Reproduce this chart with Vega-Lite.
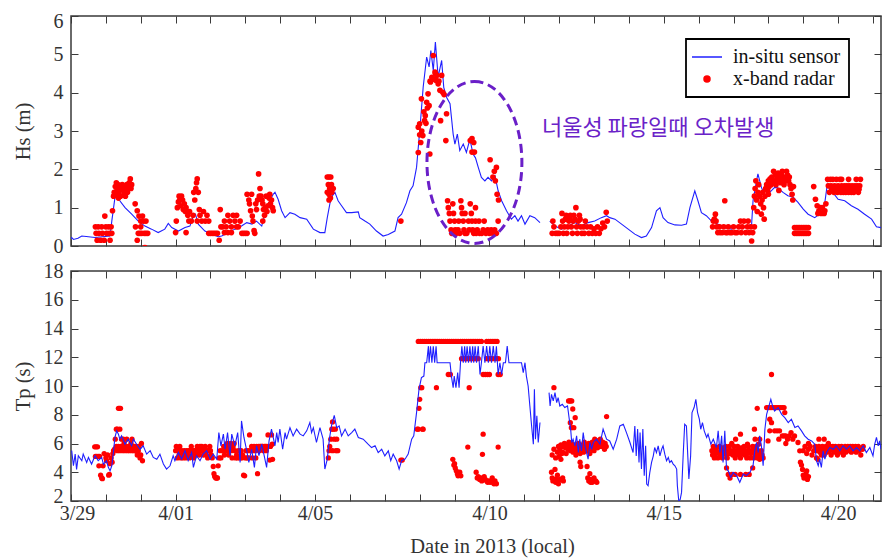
{
"$schema": "https://vega.github.io/schema/vega-lite/v6.json",
"background": "white",
"padding": {"left": 12, "top": 10, "right": 2, "bottom": 2},
"bounds": "flush",
"spacing": 25,
"config": {
  "view": {"stroke": "#3a3a3a", "strokeWidth": 1.5},
  "axis": {"domain": false, "grid": false, "tickColor": "#3a3a3a", "tickSize": -7, "tickWidth": 1, "labelFlush": false,
    "labelFont": "Liberation Serif", "labelFontSize": 20, "labelColor": "#333",
    "titleFont": "Liberation Serif", "titleFontSize": 20.5, "titleFontWeight": "normal", "titleColor": "#333"},
  "legend": {"labelFont": "Liberation Serif", "labelFontSize": 20}
},
"datasets": {
"hsS": [
{"day":0.0,"hs":0.2},{"day":0.02,"hs":0.22},{"day":0.07,"hs":0.17},{"day":0.2,"hs":0.2},{"day":0.31,"hs":0.26},{"day":0.5,"hs":0.24},{"day":0.69,"hs":0.22},{"day":0.9,"hs":0.24},{"day":1.12,"hs":0.26},{"day":1.17,"hs":0.65},{"day":1.26,"hs":1.26},{"day":1.31,"hs":1.44},{"day":1.4,"hs":1.18},{"day":1.55,"hs":1.0},{"day":1.74,"hs":0.83},{"day":1.93,"hs":0.65},{"day":2.12,"hs":0.52},{"day":2.31,"hs":0.44},{"day":2.5,"hs":0.35},{"day":2.69,"hs":0.44},{"day":2.79,"hs":0.59},{"day":2.89,"hs":0.48},{"day":3.08,"hs":0.39},{"day":3.27,"hs":0.48},{"day":3.41,"hs":0.52},{"day":3.51,"hs":0.79},{"day":3.57,"hs":0.83},{"day":3.65,"hs":0.57},{"day":3.84,"hs":0.39},{"day":4.03,"hs":0.31},{"day":4.22,"hs":0.24},{"day":4.32,"hs":0.26},{"day":4.51,"hs":0.35},{"day":4.7,"hs":0.44},{"day":4.89,"hs":0.52},{"day":5.04,"hs":0.61},{"day":5.19,"hs":0.57},{"day":5.32,"hs":0.65},{"day":5.47,"hs":0.52},{"day":5.56,"hs":0.83},{"day":5.7,"hs":1.18},{"day":5.8,"hs":1.35},{"day":5.85,"hs":1.4},{"day":5.94,"hs":1.22},{"day":6.04,"hs":0.92},{"day":6.14,"hs":0.74},{"day":6.28,"hs":0.87},{"day":6.42,"hs":0.83},{"day":6.57,"hs":0.74},{"day":6.76,"hs":0.7},{"day":6.95,"hs":0.44},{"day":7.14,"hs":0.35},{"day":7.28,"hs":0.35},{"day":7.35,"hs":0.74},{"day":7.43,"hs":1.13},{"day":7.5,"hs":1.31},{"day":7.57,"hs":1.4},{"day":7.66,"hs":1.18},{"day":7.76,"hs":1.05},{"day":7.9,"hs":0.87},{"day":8.05,"hs":0.87},{"day":8.24,"hs":0.89},{"day":8.28,"hs":0.74},{"day":8.43,"hs":0.65},{"day":8.57,"hs":0.57},{"day":8.76,"hs":0.39},{"day":8.95,"hs":0.26},{"day":9.1,"hs":0.3},{"day":9.29,"hs":0.39},{"day":9.38,"hs":0.74},{"day":9.48,"hs":0.83},{"day":9.62,"hs":1.13},{"day":9.72,"hs":1.44},{"day":9.81,"hs":1.57},{"day":9.91,"hs":2.05},{"day":10.01,"hs":3.1},{"day":10.1,"hs":4.14},{"day":10.2,"hs":4.93},{"day":10.27,"hs":4.67},{"day":10.32,"hs":5.1},{"day":10.39,"hs":4.58},{"day":10.45,"hs":5.32},{"day":10.53,"hs":4.41},{"day":10.63,"hs":4.84},{"day":10.69,"hs":4.14},{"day":10.77,"hs":3.88},{"day":10.87,"hs":3.71},{"day":10.91,"hs":3.36},{"day":10.96,"hs":2.92},{"day":11.01,"hs":2.66},{"day":11.08,"hs":2.92},{"day":11.15,"hs":2.49},{"day":11.25,"hs":2.66},{"day":11.34,"hs":2.44},{"day":11.44,"hs":2.79},{"day":11.53,"hs":2.4},{"day":11.6,"hs":2.3},{"day":11.68,"hs":2.05},{"day":11.77,"hs":1.79},{"day":11.87,"hs":1.7},{"day":11.96,"hs":1.79},{"day":12.06,"hs":1.7},{"day":12.16,"hs":1.83},{"day":12.25,"hs":1.44},{"day":12.35,"hs":1.18},{"day":12.49,"hs":0.92},{"day":12.63,"hs":0.7},{"day":12.73,"hs":0.79},{"day":12.82,"hs":0.65},{"day":12.92,"hs":0.79},{"day":13.02,"hs":0.57},{"day":13.16,"hs":0.79},{"day":13.3,"hs":0.74},{"day":13.45,"hs":0.61},{"day":13.6,"hs":null},{"day":13.73,"hs":0.65},{"day":13.88,"hs":0.52},{"day":14.07,"hs":0.44},{"day":14.26,"hs":0.52},{"day":14.45,"hs":0.61},{"day":14.64,"hs":0.52},{"day":14.83,"hs":0.61},{"day":15.02,"hs":0.65},{"day":15.21,"hs":0.74},{"day":15.36,"hs":0.79},{"day":15.45,"hs":0.74},{"day":15.6,"hs":0.7},{"day":15.79,"hs":0.57},{"day":15.98,"hs":0.44},{"day":16.17,"hs":0.31},{"day":16.36,"hs":0.22},{"day":16.5,"hs":0.26},{"day":16.65,"hs":0.48},{"day":16.79,"hs":0.92},{"day":16.89,"hs":1.0},{"day":16.98,"hs":0.74},{"day":17.12,"hs":0.61},{"day":17.32,"hs":0.55},{"day":17.51,"hs":0.54},{"day":17.65,"hs":0.57},{"day":17.75,"hs":1.0},{"day":17.89,"hs":1.44},{"day":17.98,"hs":1.18},{"day":18.08,"hs":0.87},{"day":18.22,"hs":0.79},{"day":18.37,"hs":0.65},{"day":18.56,"hs":0.57},{"day":18.75,"hs":0.48},{"day":18.94,"hs":0.44},{"day":19.13,"hs":0.52},{"day":19.32,"hs":0.48},{"day":19.52,"hs":0.57},{"day":19.56,"hs":1.18},{"day":19.66,"hs":1.7},{"day":19.7,"hs":1.88},{"day":19.8,"hs":1.53},{"day":19.9,"hs":1.31},{"day":20.04,"hs":1.4},{"day":20.18,"hs":1.53},{"day":20.27,"hs":1.52},{"day":20.42,"hs":1.4},{"day":20.56,"hs":1.31},{"day":20.71,"hs":1.27},{"day":20.85,"hs":1.14},{"day":21.0,"hs":0.96},{"day":21.14,"hs":0.83},{"day":21.33,"hs":0.74},{"day":21.52,"hs":0.87},{"day":21.62,"hs":1.14},{"day":21.69,"hs":1.61},{"day":21.75,"hs":1.49},{"day":21.85,"hs":1.4},{"day":22.0,"hs":1.22},{"day":22.19,"hs":1.18},{"day":22.38,"hs":1.05},{"day":22.57,"hs":0.96},{"day":22.76,"hs":0.83},{"day":22.96,"hs":0.7},{"day":23.1,"hs":0.5},{"day":23.23,"hs":0.48}
],
"hsR": [
{"day":0.7,"hs":0.5},{"day":0.72,"hs":0.33},{"day":0.75,"hs":0.15},{"day":0.78,"hs":0.5},{"day":0.8,"hs":0.33},{"day":0.85,"hs":0.15},{"day":0.88,"hs":0.5},{"day":0.9,"hs":0.33},{"day":0.95,"hs":0.15},{"day":0.97,"hs":0.78},{"day":1.0,"hs":0.5},{"day":1.02,"hs":0.33},{"day":1.08,"hs":0.5},{"day":1.1,"hs":0.33},{"day":1.12,"hs":0.15},{"day":1.15,"hs":0.5},{"day":1.17,"hs":0.33},{"day":1.19,"hs":0.92},
{"day":1.22,"hs":1.3},{"day":1.24,"hs":1.4},{"day":1.27,"hs":1.55},{"day":1.28,"hs":1.35},{"day":1.3,"hs":1.65},{"day":1.32,"hs":1.5},{"day":1.35,"hs":1.6},{"day":1.36,"hs":1.25},{"day":1.37,"hs":1.4},{"day":1.4,"hs":1.55},{"day":1.42,"hs":1.3},{"day":1.45,"hs":1.5},{"day":1.47,"hs":1.6},{"day":1.5,"hs":1.45},{"day":1.52,"hs":1.35},{"day":1.55,"hs":1.55},{"day":1.56,"hs":1.3},{"day":1.57,"hs":1.5},{"day":1.6,"hs":1.6},{"day":1.61,"hs":1.45},{"day":1.62,"hs":1.4},{"day":1.65,"hs":1.55},{"day":1.67,"hs":1.65},{"day":1.7,"hs":1.75},{"day":1.72,"hs":1.5},{"day":1.74,"hs":1.6},{"day":1.84,"hs":1.1},
{"day":1.85,"hs":0.5},{"day":1.9,"hs":0.92},{"day":1.9,"hs":0.15},{"day":1.93,"hs":0.33},{"day":1.95,"hs":0.78},{"day":1.98,"hs":0.33},{"day":2.0,"hs":0.65},{"day":2.0,"hs":0.5},{"day":2.03,"hs":0.33},{"day":2.05,"hs":0.78},{"day":2.08,"hs":0.65},{"day":2.1,"hs":0.33},{"day":2.12,"hs":-0.04},{"day":2.15,"hs":0.33},{"day":2.15,"hs":0.65},{"day":2.2,"hs":0.33},
{"day":3.0,"hs":0.35},{"day":3.02,"hs":0.65},{"day":3.05,"hs":1.0},{"day":3.08,"hs":1.15},{"day":3.1,"hs":1.3},{"day":3.12,"hs":1.2},{"day":3.15,"hs":1.05},{"day":3.17,"hs":1.3},{"day":3.2,"hs":1.2},{"day":3.22,"hs":0.95},{"day":3.25,"hs":1.1},{"day":3.28,"hs":0.9},{"day":3.3,"hs":1.0},{"day":3.3,"hs":0.35},{"day":3.33,"hs":0.9},{"day":3.35,"hs":0.8},{"day":3.38,"hs":0.65},{"day":3.4,"hs":0.9},{"day":3.45,"hs":0.65},{"day":3.5,"hs":0.8},{"day":3.52,"hs":1.4},{"day":3.55,"hs":1.2},{"day":3.58,"hs":1.5},{"day":3.6,"hs":1.65},{"day":3.62,"hs":1.75},{"day":3.62,"hs":0.65},{"day":3.65,"hs":1.4},{"day":3.68,"hs":0.95},{"day":3.7,"hs":0.8},{"day":3.75,"hs":0.65},{"day":3.8,"hs":0.9},{"day":3.85,"hs":0.65},{"day":3.9,"hs":0.8},{"day":3.95,"hs":0.65},
{"day":3.95,"hs":0.33},{"day":4.0,"hs":0.33},{"day":4.05,"hs":0.33},{"day":4.1,"hs":0.33},{"day":4.15,"hs":0.33},{"day":4.2,"hs":0.33},{"day":4.25,"hs":0.15},{"day":4.28,"hs":0.95},{"day":4.3,"hs":0.5},{"day":4.35,"hs":0.5},{"day":4.4,"hs":0.65},{"day":4.4,"hs":0.35},{"day":4.45,"hs":0.5},{"day":4.5,"hs":0.8},{"day":4.5,"hs":0.35},{"day":4.55,"hs":0.65},{"day":4.6,"hs":0.5},{"day":4.6,"hs":0.35},{"day":4.65,"hs":0.8},{"day":4.7,"hs":0.65},{"day":4.75,"hs":0.8},{"day":4.75,"hs":0.5},{"day":4.8,"hs":0.5},{"day":4.85,"hs":0.65},{"day":4.9,"hs":0.33},{"day":4.95,"hs":0.33},{"day":5.0,"hs":0.33},{"day":5.05,"hs":0.33},
{"day":5.05,"hs":1.35},{"day":5.1,"hs":1.2},{"day":5.12,"hs":1.1},{"day":5.15,"hs":0.92},{"day":5.18,"hs":1.35},{"day":5.2,"hs":0.78},{"day":5.22,"hs":0.65},{"day":5.25,"hs":0.4},{"day":5.27,"hs":0.33},{"day":5.3,"hs":1.1},{"day":5.32,"hs":0.95},{"day":5.35,"hs":1.2},{"day":5.38,"hs":1.88},{"day":5.4,"hs":1.3},{"day":5.42,"hs":1.5},{"day":5.45,"hs":1.3},{"day":5.48,"hs":1.2},{"day":5.5,"hs":1.1},{"day":5.5,"hs":0.65},{"day":5.52,"hs":0.95},{"day":5.55,"hs":0.8},{"day":5.58,"hs":1.0},{"day":5.6,"hs":1.3},{"day":5.62,"hs":0.9},{"day":5.65,"hs":1.05},{"day":5.68,"hs":1.25},{"day":5.7,"hs":1.35},{"day":5.72,"hs":1.1},{"day":5.75,"hs":1.2},{"day":5.78,"hs":1.0},{"day":5.8,"hs":0.92},
{"day":7.35,"hs":1.8},{"day":7.4,"hs":1.8},{"day":7.45,"hs":1.8},{"day":7.38,"hs":1.6},{"day":7.42,"hs":1.5},{"day":7.47,"hs":1.6},{"day":7.35,"hs":1.4},{"day":7.4,"hs":1.35},{"day":7.44,"hs":1.25},{"day":7.48,"hs":1.4},{"day":7.52,"hs":1.5},{"day":7.4,"hs":1.2},
{"day":9.46,"hs":0.65},
{"day":9.96,"hs":2.44},{"day":9.96,"hs":3.1},{"day":10.0,"hs":3.19},{"day":10.0,"hs":2.9},{"day":10.03,"hs":2.7},{"day":10.05,"hs":3.84},{"day":10.06,"hs":3.0},{"day":10.09,"hs":2.88},{"day":10.12,"hs":3.5},{"day":10.14,"hs":3.27},{"day":10.16,"hs":3.4},{"day":10.18,"hs":3.2},{"day":10.2,"hs":3.75},{"day":10.22,"hs":3.6},{"day":10.24,"hs":3.97},{"day":10.27,"hs":3.66},{"day":10.29,"hs":2.4},{"day":10.3,"hs":4.3},{"day":10.31,"hs":4.28},{"day":10.35,"hs":4.4},{"day":10.39,"hs":4.97},{"day":10.42,"hs":4.35},{"day":10.44,"hs":4.54},{"day":10.45,"hs":4.5},{"day":10.47,"hs":4.32},{"day":10.49,"hs":4.45},{"day":10.53,"hs":4.23},{"day":10.55,"hs":4.3},{"day":10.58,"hs":4.06},{"day":10.6,"hs":3.27},{"day":10.63,"hs":4.45},{"day":10.66,"hs":4.01},{"day":10.7,"hs":3.95},{"day":10.75,"hs":2.75},{"day":10.77,"hs":3.45},
{"day":11.45,"hs":2.75},{"day":11.5,"hs":2.8},{"day":11.55,"hs":2.7},{"day":11.5,"hs":2.45},{"day":11.57,"hs":2.45},{"day":12.02,"hs":2.25},{"day":12.1,"hs":1.8},{"day":12.14,"hs":1.95},{"day":12.17,"hs":1.7},{"day":12.2,"hs":2.05},{"day":12.22,"hs":1.35},{"day":12.26,"hs":1.2},
{"day":10.8,"hs":1.18},{"day":10.82,"hs":1.0},{"day":10.85,"hs":0.85},{"day":10.87,"hs":0.65},{"day":10.9,"hs":0.42},{"day":10.92,"hs":0.33},{"day":10.95,"hs":1.1},{"day":10.97,"hs":0.85},{"day":11.0,"hs":0.65},{"day":11.02,"hs":0.42},{"day":11.05,"hs":0.33},{"day":11.1,"hs":0.42},{"day":11.12,"hs":0.65},{"day":11.15,"hs":0.33},{"day":11.18,"hs":1.18},{"day":11.2,"hs":1.0},{"day":11.22,"hs":0.85},{"day":11.25,"hs":0.65},{"day":11.27,"hs":0.42},{"day":11.3,"hs":0.33},{"day":11.3,"hs":0.85},{"day":11.35,"hs":0.33},{"day":11.4,"hs":0.65},{"day":11.42,"hs":0.42},{"day":11.45,"hs":1.1},{"day":11.48,"hs":0.85},{"day":11.5,"hs":0.65},{"day":11.52,"hs":0.42},{"day":11.55,"hs":0.33},{"day":11.6,"hs":0.65},{"day":11.6,"hs":1.0},{"day":11.62,"hs":0.33},{"day":11.65,"hs":0.42},{"day":11.7,"hs":0.65},{"day":11.72,"hs":0.33},{"day":11.78,"hs":0.33},{"day":11.82,"hs":0.42},{"day":11.85,"hs":0.65},{"day":11.9,"hs":0.33},{"day":11.95,"hs":0.42},{"day":12.0,"hs":0.33},{"day":12.05,"hs":0.42},{"day":12.1,"hs":0.33},{"day":12.15,"hs":0.42},{"day":12.2,"hs":0.33},{"day":12.25,"hs":0.65},
{"day":13.8,"hs":0.33},{"day":13.82,"hs":0.65},{"day":13.85,"hs":0.5},{"day":13.9,"hs":0.33},{"day":13.95,"hs":0.33},{"day":14.0,"hs":0.33},{"day":14.05,"hs":0.5},{"day":14.08,"hs":0.85},{"day":14.1,"hs":0.65},{"day":14.12,"hs":0.33},{"day":14.15,"hs":0.5},{"day":14.18,"hs":0.7},{"day":14.2,"hs":0.8},{"day":14.22,"hs":0.33},{"day":14.25,"hs":0.5},{"day":14.28,"hs":0.65},{"day":14.3,"hs":0.7},{"day":14.32,"hs":0.8},{"day":14.35,"hs":0.5},{"day":14.38,"hs":0.33},{"day":14.4,"hs":0.65},{"day":14.42,"hs":0.8},{"day":14.45,"hs":0.7},{"day":14.48,"hs":1.0},{"day":14.5,"hs":0.5},{"day":14.52,"hs":0.33},{"day":14.55,"hs":0.65},{"day":14.58,"hs":0.8},{"day":14.6,"hs":0.7},{"day":14.62,"hs":0.5},{"day":14.65,"hs":0.33},{"day":14.7,"hs":0.5},{"day":14.72,"hs":0.33},{"day":14.75,"hs":0.65},{"day":14.8,"hs":0.5},{"day":14.85,"hs":0.33},{"day":14.9,"hs":0.5},{"day":14.95,"hs":0.33},{"day":15.0,"hs":0.45},{"day":15.05,"hs":0.33},{"day":15.1,"hs":0.5},{"day":15.15,"hs":0.33},{"day":15.2,"hs":0.45},{"day":15.25,"hs":0.6},{"day":15.3,"hs":0.5},{"day":15.35,"hs":0.88},{"day":15.38,"hs":0.65},
{"day":18.4,"hs":0.5},{"day":18.42,"hs":0.65},{"day":18.45,"hs":0.7},{"day":18.48,"hs":0.83},{"day":18.5,"hs":0.65},{"day":18.52,"hs":0.5},{"day":18.55,"hs":0.35},{"day":18.6,"hs":0.5},{"day":18.62,"hs":0.35},{"day":18.68,"hs":0.35},{"day":18.72,"hs":0.5},{"day":18.75,"hs":1.18},{"day":18.78,"hs":0.35},{"day":18.82,"hs":0.35},{"day":18.85,"hs":0.5},{"day":18.9,"hs":0.35},{"day":18.95,"hs":0.35},{"day":19.0,"hs":0.5},{"day":19.05,"hs":0.35},{"day":19.1,"hs":0.35},{"day":19.15,"hs":0.5},{"day":19.2,"hs":0.65},{"day":19.22,"hs":0.35},{"day":19.25,"hs":0.5},{"day":19.3,"hs":0.65},{"day":19.35,"hs":0.35},{"day":19.4,"hs":0.5},{"day":19.42,"hs":0.65},{"day":19.45,"hs":0.35},{"day":19.5,"hs":0.5},{"day":19.52,"hs":0.13},{"day":19.55,"hs":0.35},{"day":19.6,"hs":0.5},
{"day":19.58,"hs":1.0},{"day":19.6,"hs":1.3},{"day":19.62,"hs":1.5},{"day":19.64,"hs":1.7},{"day":19.66,"hs":1.2},{"day":19.68,"hs":0.9},{"day":19.7,"hs":1.4},{"day":19.72,"hs":1.6},{"day":19.75,"hs":1.3},{"day":19.78,"hs":1.1},{"day":19.8,"hs":0.83},{"day":19.82,"hs":1.2},{"day":19.84,"hs":1.4},{"day":19.86,"hs":1.0},{"day":19.88,"hs":0.7},{"day":19.9,"hs":1.3},{"day":19.92,"hs":1.5},{"day":19.95,"hs":1.6},{"day":19.98,"hs":1.45},{"day":20.0,"hs":1.7},{"day":20.0,"hs":1.35},{"day":20.02,"hs":1.55},{"day":20.05,"hs":1.75},{"day":20.08,"hs":1.6},{"day":20.1,"hs":1.8},{"day":20.12,"hs":1.65},{"day":20.15,"hs":1.95},{"day":20.18,"hs":1.7},{"day":20.2,"hs":1.85},{"day":20.22,"hs":1.6},{"day":20.25,"hs":1.75},{"day":20.28,"hs":1.9},{"day":20.3,"hs":1.7},{"day":20.3,"hs":1.45},{"day":20.32,"hs":1.8},{"day":20.35,"hs":1.65},{"day":20.38,"hs":1.85},{"day":20.4,"hs":1.95},{"day":20.42,"hs":1.75},{"day":20.45,"hs":1.6},{"day":20.48,"hs":1.8},{"day":20.5,"hs":1.7},{"day":20.52,"hs":1.95},{"day":20.55,"hs":1.85},{"day":20.58,"hs":1.7},{"day":20.6,"hs":1.8},{"day":20.62,"hs":1.6},{"day":20.65,"hs":1.5},{"day":20.68,"hs":1.35},{"day":20.7,"hs":1.2},{"day":20.72,"hs":1.55},
{"day":20.75,"hs":0.48},{"day":20.8,"hs":0.48},{"day":20.85,"hs":0.48},{"day":20.9,"hs":0.48},{"day":20.95,"hs":0.48},{"day":21.0,"hs":0.48},{"day":21.05,"hs":0.48},{"day":21.1,"hs":0.48},{"day":21.15,"hs":0.48},{"day":20.75,"hs":0.33},{"day":20.8,"hs":0.33},{"day":20.85,"hs":0.33},{"day":20.9,"hs":0.33},{"day":20.95,"hs":0.33},{"day":21.0,"hs":0.33},{"day":21.05,"hs":0.33},{"day":21.1,"hs":0.33},{"day":21.15,"hs":0.33},
{"day":21.3,"hs":1.55},{"day":21.35,"hs":1.22},{"day":21.4,"hs":1.05},{"day":21.42,"hs":0.85},{"day":21.45,"hs":0.92},{"day":21.5,"hs":1.0},{"day":21.52,"hs":0.85},{"day":21.55,"hs":1.0},{"day":21.6,"hs":0.85},{"day":21.62,"hs":0.92},{"day":21.65,"hs":1.1},
{"day":21.7,"hs":1.74},{"day":21.72,"hs":1.57},{"day":21.75,"hs":1.4},{"day":21.78,"hs":1.74},{"day":21.8,"hs":1.57},{"day":21.82,"hs":1.48},{"day":21.85,"hs":1.74},{"day":21.88,"hs":1.4},{"day":21.9,"hs":1.57},{"day":21.92,"hs":1.48},{"day":21.95,"hs":1.74},{"day":21.98,"hs":1.4},{"day":22.0,"hs":1.57},{"day":22.02,"hs":1.48},{"day":22.05,"hs":1.74},{"day":22.08,"hs":1.4},{"day":22.1,"hs":1.57},{"day":22.1,"hs":1.74},{"day":22.12,"hs":1.48},{"day":22.15,"hs":1.4},{"day":22.18,"hs":1.57},{"day":22.2,"hs":1.48},{"day":22.22,"hs":1.4},{"day":22.25,"hs":1.57},{"day":22.28,"hs":1.48},{"day":22.3,"hs":1.4},{"day":22.3,"hs":1.74},{"day":22.32,"hs":1.57},{"day":22.35,"hs":1.48},{"day":22.38,"hs":1.4},{"day":22.4,"hs":1.57},{"day":22.42,"hs":1.48},{"day":22.45,"hs":1.4},{"day":22.48,"hs":1.57},{"day":22.5,"hs":1.48},{"day":22.52,"hs":1.74},{"day":22.55,"hs":1.57},{"day":22.58,"hs":1.4},{"day":22.6,"hs":1.48},{"day":22.62,"hs":1.57},{"day":22.64,"hs":1.74}
],
"ring": [{"day":11.57,"hs":2.18}],
"note": [{"day":16.84,"hs":3.09,"label":"너울성 파랑일때 오차발생"}],
"tpS": [
{"day":0.02,"tp":5.5},{"day":0.07,"tp":4.45},{"day":0.12,"tp":5.26},{"day":0.16,"tp":4.2},{"day":0.21,"tp":5.15},{"day":0.31,"tp":4.8},{"day":0.35,"tp":5.26},{"day":0.45,"tp":4.68},{"day":0.5,"tp":5.03},{"day":0.59,"tp":4.57},{"day":0.69,"tp":5.15},{"day":0.78,"tp":4.8},{"day":0.88,"tp":5.03},{"day":0.93,"tp":4.57},{"day":1.02,"tp":4.8},{"day":1.07,"tp":4.34},{"day":1.12,"tp":4.1},{"day":1.17,"tp":4.45},{"day":1.21,"tp":5.26},{"day":1.26,"tp":6.42},{"day":1.31,"tp":6.88},{"day":1.36,"tp":6.65},{"day":1.4,"tp":6.3},{"day":1.45,"tp":6.53},{"day":1.55,"tp":5.95},{"day":1.64,"tp":6.3},{"day":1.74,"tp":5.84},{"day":1.79,"tp":6.3},{"day":1.88,"tp":5.95},{"day":1.98,"tp":5.6},{"day":2.07,"tp":5.84},{"day":2.17,"tp":5.26},{"day":2.27,"tp":5.5},{"day":2.36,"tp":5.03},{"day":2.46,"tp":4.91},{"day":2.55,"tp":5.26},{"day":2.65,"tp":4.57},{"day":2.74,"tp":4.22},{"day":2.84,"tp":4.45},{"day":2.93,"tp":5.15},{"day":2.98,"tp":4.8},{"day":3.08,"tp":5.38},{"day":3.17,"tp":4.91},{"day":3.27,"tp":5.5},{"day":3.36,"tp":4.8},{"day":3.46,"tp":5.38},{"day":3.51,"tp":4.34},{"day":3.6,"tp":5.15},{"day":3.7,"tp":4.8},{"day":3.79,"tp":5.26},{"day":3.89,"tp":5.5},{"day":3.99,"tp":4.91},{"day":4.08,"tp":5.26},{"day":4.18,"tp":4.91},{"day":4.24,"tp":6.76},{"day":4.3,"tp":5.84},{"day":4.37,"tp":6.65},{"day":4.42,"tp":5.6},{"day":4.49,"tp":6.76},{"day":4.56,"tp":5.15},{"day":4.61,"tp":6.65},{"day":4.7,"tp":5.84},{"day":4.78,"tp":6.76},{"day":4.85,"tp":4.68},{"day":4.89,"tp":7.57},{"day":4.96,"tp":6.42},{"day":5.04,"tp":5.5},{"day":5.1,"tp":4.68},{"day":5.18,"tp":5.6},{"day":5.26,"tp":4.34},{"day":5.32,"tp":5.84},{"day":5.39,"tp":5.15},{"day":5.47,"tp":5.95},{"day":5.54,"tp":5.15},{"day":5.61,"tp":4.34},{"day":5.68,"tp":6.19},{"day":5.75,"tp":7.0},{"day":5.8,"tp":6.42},{"day":5.85,"tp":5.84},{"day":5.9,"tp":6.76},{"day":5.94,"tp":6.07},{"day":5.99,"tp":7.0},{"day":6.07,"tp":5.6},{"day":6.14,"tp":6.76},{"day":6.18,"tp":6.3},{"day":6.28,"tp":7.1},{"day":6.37,"tp":6.53},{"day":6.47,"tp":7.0},{"day":6.57,"tp":6.65},{"day":6.66,"tp":6.53},{"day":6.76,"tp":6.88},{"day":6.85,"tp":7.46},{"day":6.9,"tp":6.76},{"day":6.95,"tp":7.1},{"day":7.04,"tp":6.07},{"day":7.14,"tp":7.1},{"day":7.23,"tp":6.3},{"day":7.28,"tp":4.22},{"day":7.35,"tp":4.91},{"day":7.41,"tp":6.3},{"day":7.47,"tp":7.22},{"day":7.55,"tp":7.96},{"day":7.62,"tp":7.1},{"day":7.69,"tp":7.22},{"day":7.76,"tp":6.53},{"day":7.86,"tp":7.0},{"day":7.95,"tp":6.53},{"day":8.05,"tp":6.76},{"day":8.14,"tp":7.0},{"day":8.24,"tp":6.42},{"day":8.38,"tp":6.3},{"day":8.52,"tp":5.95},{"day":8.62,"tp":5.72},{"day":8.72,"tp":5.84},{"day":8.81,"tp":5.37},{"day":8.91,"tp":5.6},{"day":9.0,"tp":5.14},{"day":9.1,"tp":5.49},{"day":9.17,"tp":4.8},{"day":9.24,"tp":5.26},{"day":9.34,"tp":4.8},{"day":9.41,"tp":4.22},{"day":9.48,"tp":4.8},{"day":9.58,"tp":4.91},{"day":9.67,"tp":5.26},{"day":9.77,"tp":6.3},{"day":9.83,"tp":6.53},{"day":9.91,"tp":8.15},{"day":9.98,"tp":9.77},{"day":10.05,"tp":10.58},{"day":10.12,"tp":10.69},{"day":10.15,"tp":11.62},{"day":10.2,"tp":11.62},{"day":10.25,"tp":12.77},{"day":10.27,"tp":11.62},{"day":10.31,"tp":12.77},{"day":10.35,"tp":11.62},{"day":10.39,"tp":12.77},{"day":10.43,"tp":11.62},{"day":10.47,"tp":12.77},{"day":10.5,"tp":11.62},{"day":10.87,"tp":11.62},{"day":10.91,"tp":10.69},{"day":10.96,"tp":9.88},{"day":10.99,"tp":10.69},{"day":11.04,"tp":9.88},{"day":11.09,"tp":10.93},{"day":11.13,"tp":9.88},{"day":11.17,"tp":11.62},{"day":11.21,"tp":12.77},{"day":11.25,"tp":11.62},{"day":11.29,"tp":12.77},{"day":11.32,"tp":11.62},{"day":11.36,"tp":12.77},{"day":11.4,"tp":11.62},{"day":11.44,"tp":12.77},{"day":11.48,"tp":11.62},{"day":11.52,"tp":12.77},{"day":11.55,"tp":11.62},{"day":11.59,"tp":12.77},{"day":11.63,"tp":11.62},{"day":11.68,"tp":12.77},{"day":11.73,"tp":10.8},{"day":11.77,"tp":11.62},{"day":11.82,"tp":12.77},{"day":11.87,"tp":11.62},{"day":11.92,"tp":12.77},{"day":11.97,"tp":11.62},{"day":12.01,"tp":12.77},{"day":12.06,"tp":11.62},{"day":12.11,"tp":12.77},{"day":12.16,"tp":11.62},{"day":12.2,"tp":12.77},{"day":12.25,"tp":10.8},{"day":12.3,"tp":11.62},{"day":12.35,"tp":10.8},{"day":12.4,"tp":11.62},{"day":12.46,"tp":11.62},{"day":12.51,"tp":12.77},{"day":12.56,"tp":11.62},{"day":12.83,"tp":11.62},{"day":12.92,"tp":11.62},{"day":12.97,"tp":10.93},{"day":13.02,"tp":11.62},{"day":13.06,"tp":10.69},{"day":13.11,"tp":10.0},{"day":13.16,"tp":8.61},{"day":13.21,"tp":7.22},{"day":13.26,"tp":5.95},{"day":13.29,"tp":9.77},{"day":13.32,"tp":6.3},{"day":13.36,"tp":7.92},{"day":13.4,"tp":6.07},{"day":13.45,"tp":7.46},{"day":13.6,"tp":null},{"day":13.71,"tp":9.54},{"day":13.74,"tp":8.61},{"day":13.78,"tp":9.42},{"day":13.83,"tp":8.96},{"day":13.88,"tp":9.54},{"day":13.93,"tp":8.84},{"day":13.97,"tp":9.19},{"day":14.02,"tp":8.61},{"day":14.09,"tp":8.73},{"day":14.16,"tp":8.5},{"day":14.24,"tp":8.61},{"day":14.29,"tp":7.69},{"day":14.33,"tp":7.0},{"day":14.36,"tp":6.07},{"day":14.4,"tp":6.3},{"day":14.45,"tp":5.84},{"day":14.5,"tp":6.53},{"day":14.55,"tp":5.37},{"day":14.59,"tp":6.3},{"day":14.64,"tp":5.49},{"day":14.69,"tp":6.76},{"day":14.74,"tp":5.84},{"day":14.83,"tp":4.91},{"day":14.88,"tp":6.07},{"day":14.93,"tp":5.6},{"day":14.98,"tp":6.07},{"day":15.07,"tp":6.3},{"day":15.17,"tp":5.95},{"day":15.26,"tp":7.0},{"day":15.36,"tp":6.3},{"day":15.45,"tp":6.18},{"day":15.55,"tp":5.6},{"day":15.65,"tp":6.3},{"day":15.74,"tp":7.22},{"day":15.84,"tp":7.34},{"day":15.93,"tp":6.76},{"day":16.03,"tp":6.07},{"day":16.12,"tp":5.37},{"day":16.17,"tp":7.22},{"day":16.21,"tp":5.14},{"day":16.25,"tp":7.0},{"day":16.29,"tp":4.68},{"day":16.32,"tp":6.76},{"day":16.36,"tp":4.22},{"day":16.4,"tp":7.0},{"day":16.44,"tp":3.76},{"day":16.48,"tp":5.84},{"day":16.51,"tp":3.18},{"day":16.55,"tp":3.06},{"day":16.6,"tp":3.99},{"day":16.65,"tp":4.68},{"day":16.7,"tp":5.14},{"day":16.74,"tp":5.72},{"day":16.79,"tp":5.37},{"day":16.84,"tp":5.84},{"day":16.89,"tp":5.14},{"day":16.94,"tp":5.6},{"day":16.98,"tp":5.84},{"day":17.03,"tp":5.26},{"day":17.08,"tp":4.8},{"day":17.13,"tp":5.03},{"day":17.17,"tp":4.68},{"day":17.22,"tp":4.8},{"day":17.27,"tp":4.57},{"day":17.32,"tp":4.45},{"day":17.37,"tp":4.22},{"day":17.39,"tp":3.06},{"day":17.43,"tp":2.0},{"day":17.47,"tp":2.1},{"day":17.51,"tp":2.6},{"day":17.56,"tp":5.37},{"day":17.6,"tp":7.34},{"day":17.65,"tp":7.22},{"day":17.68,"tp":5.6},{"day":17.72,"tp":3.53},{"day":17.77,"tp":5.14},{"day":17.81,"tp":8.15},{"day":17.87,"tp":8.5},{"day":17.92,"tp":9.07},{"day":17.97,"tp":8.15},{"day":18.02,"tp":7.69},{"day":18.06,"tp":6.99},{"day":18.11,"tp":7.46},{"day":18.16,"tp":6.88},{"day":18.23,"tp":6.42},{"day":18.27,"tp":6.65},{"day":18.35,"tp":5.95},{"day":18.42,"tp":6.3},{"day":18.51,"tp":5.72},{"day":18.56,"tp":6.88},{"day":18.61,"tp":5.37},{"day":18.66,"tp":6.53},{"day":18.7,"tp":4.68},{"day":18.75,"tp":6.88},{"day":18.8,"tp":4.22},{"day":18.85,"tp":4.1},{"day":18.92,"tp":3.64},{"day":18.99,"tp":3.99},{"day":19.09,"tp":3.76},{"day":19.18,"tp":3.3},{"day":19.28,"tp":3.87},{"day":19.37,"tp":3.76},{"day":19.47,"tp":3.99},{"day":19.56,"tp":4.45},{"day":19.61,"tp":5.49},{"day":19.66,"tp":6.07},{"day":19.71,"tp":5.37},{"day":19.75,"tp":6.53},{"day":19.8,"tp":5.84},{"day":19.85,"tp":4.45},{"day":19.9,"tp":6.99},{"day":19.95,"tp":8.03},{"day":19.99,"tp":8.38},{"day":20.07,"tp":9.07},{"day":20.12,"tp":8.61},{"day":20.18,"tp":8.26},{"day":20.28,"tp":8.5},{"day":20.38,"tp":8.03},{"day":20.47,"tp":7.8},{"day":20.57,"tp":7.46},{"day":20.66,"tp":7.69},{"day":20.76,"tp":7.11},{"day":20.85,"tp":7.22},{"day":20.95,"tp":6.88},{"day":21.04,"tp":6.53},{"day":21.14,"tp":6.3},{"day":21.24,"tp":6.18},{"day":21.33,"tp":5.95},{"day":21.38,"tp":4.8},{"day":21.43,"tp":4.45},{"day":21.47,"tp":4.91},{"day":21.52,"tp":4.33},{"day":21.57,"tp":5.49},{"day":21.62,"tp":4.91},{"day":21.67,"tp":5.37},{"day":21.76,"tp":5.72},{"day":21.86,"tp":5.6},{"day":21.95,"tp":5.84},{"day":22.05,"tp":5.49},{"day":22.14,"tp":5.84},{"day":22.24,"tp":5.6},{"day":22.33,"tp":5.84},{"day":22.43,"tp":5.49},{"day":22.53,"tp":5.72},{"day":22.62,"tp":5.49},{"day":22.72,"tp":5.84},{"day":22.81,"tp":5.37},{"day":22.91,"tp":5.72},{"day":23.0,"tp":5.14},{"day":23.05,"tp":5.95},{"day":23.1,"tp":6.42},{"day":23.15,"tp":5.84},{"day":23.19,"tp":6.18},{"day":23.23,"tp":5.6}
],
"tpR": [
{"day":0.68,"tp":5.77},{"day":0.72,"tp":5.77},{"day":0.76,"tp":5.77},{"day":0.7,"tp":5.1},{"day":0.74,"tp":5.1},{"day":0.78,"tp":5.1},{"day":0.82,"tp":5.1},{"day":0.8,"tp":4.45},{"day":0.85,"tp":3.8},{"day":0.88,"tp":3.6},{"day":0.9,"tp":3.55},{"day":0.92,"tp":4.45},{"day":0.95,"tp":5.3},{"day":1.0,"tp":5.0},{"day":1.02,"tp":4.8},{"day":1.05,"tp":5.2},{"day":1.08,"tp":3.8},{"day":1.1,"tp":3.85},{"day":1.12,"tp":4.6},{"day":1.15,"tp":5.0},{"day":1.18,"tp":4.7},{"day":1.2,"tp":5.3},{"day":1.22,"tp":5.5},
{"day":1.25,"tp":5.6},{"day":1.27,"tp":6.3},{"day":1.3,"tp":7.0},{"day":1.33,"tp":7.0},{"day":1.36,"tp":8.45},{"day":1.39,"tp":8.45},{"day":1.42,"tp":8.45},{"day":1.4,"tp":7.0},{"day":1.3,"tp":5.8},{"day":1.33,"tp":5.5},{"day":1.36,"tp":5.8},{"day":1.4,"tp":5.5},{"day":1.43,"tp":5.8},{"day":1.45,"tp":6.3},{"day":1.48,"tp":5.5},{"day":1.5,"tp":5.8},{"day":1.5,"tp":6.3},{"day":1.52,"tp":6.0},{"day":1.55,"tp":5.5},{"day":1.58,"tp":5.8},{"day":1.6,"tp":6.3},{"day":1.62,"tp":5.5},{"day":1.65,"tp":5.8},{"day":1.68,"tp":5.5},{"day":1.7,"tp":5.8},{"day":1.72,"tp":6.0},{"day":1.75,"tp":5.5},{"day":1.75,"tp":6.3},{"day":1.78,"tp":5.8},{"day":1.8,"tp":5.5},{"day":1.82,"tp":5.8},{"day":1.85,"tp":5.5},{"day":1.88,"tp":5.8},{"day":1.9,"tp":5.2},{"day":1.93,"tp":5.5},{"day":1.95,"tp":5.8},{"day":1.98,"tp":5.0},{"day":2.0,"tp":5.2},{"day":2.02,"tp":6.0},{"day":2.05,"tp":4.8},
{"day":3.0,"tp":5.5},{"day":3.02,"tp":5.8},{"day":3.05,"tp":5.0},{"day":3.08,"tp":5.5},{"day":3.1,"tp":5.2},{"day":3.12,"tp":5.8},{"day":3.15,"tp":5.0},{"day":3.18,"tp":5.5},{"day":3.2,"tp":5.2},{"day":3.22,"tp":5.0},{"day":3.25,"tp":5.5},{"day":3.28,"tp":5.2},{"day":3.3,"tp":5.0},{"day":3.32,"tp":5.5},{"day":3.35,"tp":5.2},{"day":3.38,"tp":5.5},{"day":3.4,"tp":5.0},{"day":3.42,"tp":5.5},{"day":3.45,"tp":5.8},{"day":3.48,"tp":5.2},{"day":3.5,"tp":5.5},{"day":3.52,"tp":5.0},{"day":3.55,"tp":5.5},{"day":3.58,"tp":5.2},{"day":3.6,"tp":5.5},{"day":3.62,"tp":5.8},{"day":3.65,"tp":5.5},{"day":3.68,"tp":5.2},{"day":3.7,"tp":5.8},{"day":3.72,"tp":5.5},{"day":3.75,"tp":5.8},{"day":3.78,"tp":5.5},{"day":3.8,"tp":5.2},{"day":3.82,"tp":5.5},{"day":3.85,"tp":5.8},{"day":3.88,"tp":5.2},{"day":3.9,"tp":5.5},{"day":3.92,"tp":5.0},{"day":3.95,"tp":5.5},{"day":3.98,"tp":5.8},{"day":4.0,"tp":5.5},{"day":4.02,"tp":5.2},
{"day":4.05,"tp":5.0},{"day":4.08,"tp":4.4},{"day":4.1,"tp":3.9},{"day":4.12,"tp":3.7},{"day":4.15,"tp":3.6},{"day":4.18,"tp":3.6},{"day":4.2,"tp":3.6},{"day":4.22,"tp":4.45},{"day":4.25,"tp":5.0},{"day":4.28,"tp":5.5},{"day":4.3,"tp":5.0},
{"day":4.35,"tp":5.5},{"day":4.38,"tp":5.8},{"day":4.4,"tp":5.2},{"day":4.42,"tp":5.5},{"day":4.45,"tp":5.8},{"day":4.48,"tp":6.0},{"day":4.5,"tp":5.5},{"day":4.52,"tp":5.2},{"day":4.55,"tp":5.8},{"day":4.58,"tp":6.0},{"day":4.6,"tp":5.5},{"day":4.62,"tp":5.0},{"day":4.65,"tp":5.8},{"day":4.68,"tp":6.0},{"day":4.7,"tp":5.5},{"day":4.72,"tp":5.0},{"day":4.75,"tp":5.2},{"day":4.78,"tp":5.0},{"day":4.8,"tp":5.5},{"day":4.85,"tp":5.0},{"day":4.88,"tp":5.5},{"day":4.9,"tp":5.0},{"day":4.92,"tp":5.2},{"day":4.95,"tp":3.8},{"day":4.98,"tp":3.75},{"day":5.0,"tp":5.0},{"day":5.02,"tp":5.5},{"day":5.05,"tp":5.0},{"day":5.08,"tp":5.5},{"day":5.1,"tp":5.0},{"day":5.12,"tp":6.6},{"day":5.15,"tp":5.5},{"day":5.18,"tp":5.8},{"day":5.2,"tp":5.0},{"day":5.22,"tp":5.5},{"day":5.25,"tp":5.8},{"day":5.28,"tp":5.5},{"day":5.3,"tp":5.0},{"day":5.32,"tp":5.8},{"day":5.35,"tp":3.9},{"day":5.38,"tp":5.8},{"day":5.4,"tp":5.5},{"day":5.42,"tp":5.8},{"day":5.45,"tp":5.8},{"day":5.48,"tp":5.8},{"day":5.5,"tp":5.8},{"day":5.52,"tp":5.5},{"day":5.55,"tp":5.8},{"day":5.58,"tp":5.8},{"day":5.6,"tp":5.5},{"day":5.62,"tp":5.8},{"day":5.65,"tp":6.6},{"day":5.7,"tp":4.85},{"day":5.72,"tp":5.8},{"day":5.75,"tp":6.6},{"day":5.77,"tp":5.95},{"day":5.78,"tp":4.9},
{"day":7.38,"tp":5.0},{"day":7.4,"tp":5.5},{"day":7.42,"tp":5.8},{"day":7.45,"tp":6.3},{"day":7.48,"tp":7.0},{"day":7.5,"tp":7.5},{"day":7.5,"tp":5.5},{"day":7.52,"tp":7.0},{"day":7.55,"tp":6.3},{"day":7.58,"tp":7.0},{"day":7.6,"tp":5.5},{"day":7.62,"tp":6.3},{"day":7.65,"tp":5.5},
{"day":9.46,"tp":4.85},{"day":9.5,"tp":4.85},
{"day":9.93,"tp":7.0},{"day":9.96,"tp":7.0},{"day":9.98,"tp":8.45},{"day":10.0,"tp":9.07},{"day":10.03,"tp":9.88},{"day":10.06,"tp":9.88},{"day":10.08,"tp":7.0},{"day":10.1,"tp":7.0},
{"day":9.96,"tp":13.1},{"day":10.02,"tp":13.1},{"day":10.08,"tp":13.1},{"day":10.14,"tp":13.1},{"day":10.2,"tp":13.1},{"day":10.26,"tp":13.1},{"day":10.32,"tp":13.1},{"day":10.38,"tp":13.1},{"day":10.44,"tp":13.1},{"day":10.5,"tp":13.1},{"day":10.56,"tp":13.1},{"day":10.62,"tp":13.1},{"day":10.68,"tp":13.1},{"day":10.74,"tp":13.1},{"day":10.8,"tp":13.1},{"day":10.86,"tp":13.1},{"day":10.92,"tp":13.1},{"day":10.98,"tp":13.1},{"day":11.04,"tp":13.1},{"day":11.1,"tp":13.1},{"day":11.17,"tp":13.1},{"day":11.23,"tp":13.1},{"day":11.29,"tp":13.1},{"day":11.35,"tp":13.1},{"day":11.41,"tp":13.1},{"day":11.47,"tp":13.1},{"day":11.53,"tp":13.1},{"day":11.59,"tp":13.1},{"day":11.65,"tp":13.1},{"day":11.71,"tp":13.1},{"day":11.77,"tp":13.1},{"day":11.92,"tp":13.1},{"day":11.98,"tp":13.1},{"day":12.04,"tp":13.1},{"day":12.1,"tp":13.1},{"day":12.16,"tp":13.1},{"day":12.22,"tp":13.1},
{"day":11.2,"tp":11.9},{"day":11.26,"tp":11.9},{"day":11.32,"tp":11.9},{"day":11.38,"tp":11.9},{"day":11.44,"tp":11.9},{"day":11.5,"tp":11.9},{"day":11.56,"tp":11.9},{"day":11.62,"tp":11.9},{"day":11.68,"tp":11.9},{"day":11.92,"tp":11.9},{"day":11.98,"tp":11.9},{"day":12.04,"tp":11.9},{"day":12.1,"tp":11.9},{"day":12.2,"tp":11.9},{"day":12.26,"tp":11.9},
{"day":10.82,"tp":10.8},{"day":10.88,"tp":10.8},{"day":11.82,"tp":10.8},{"day":11.88,"tp":10.8},{"day":11.94,"tp":10.8},{"day":12.0,"tp":10.8},{"day":12.25,"tp":10.8},{"day":12.31,"tp":10.8},{"day":10.48,"tp":9.88},{"day":11.42,"tp":9.88},
{"day":10.95,"tp":4.9},{"day":10.98,"tp":4.5},{"day":11.0,"tp":4.6},{"day":11.02,"tp":4.3},{"day":11.05,"tp":4.1},{"day":11.08,"tp":3.9},{"day":11.1,"tp":3.75},{"day":11.12,"tp":3.8},{"day":11.15,"tp":4.0},{"day":11.18,"tp":3.75},{"day":11.38,"tp":5.75},{"day":11.62,"tp":4.0},{"day":11.65,"tp":3.6},{"day":11.68,"tp":3.7},{"day":11.72,"tp":3.5},{"day":11.75,"tp":3.6},{"day":11.78,"tp":3.4},{"day":11.8,"tp":5.25},{"day":11.82,"tp":6.65},{"day":11.85,"tp":3.7},{"day":11.88,"tp":3.5},{"day":11.92,"tp":3.4},{"day":11.95,"tp":3.3},{"day":11.98,"tp":3.4},{"day":12.02,"tp":3.3},{"day":12.05,"tp":3.4},{"day":12.08,"tp":3.6},{"day":12.1,"tp":3.3},{"day":12.13,"tp":3.2},{"day":12.16,"tp":3.4},{"day":12.2,"tp":3.2},{"day":12.25,"tp":5.75},
{"day":13.85,"tp":9.88},{"day":13.78,"tp":4.0},{"day":13.8,"tp":3.6},{"day":13.82,"tp":3.4},{"day":13.85,"tp":3.5},{"day":13.88,"tp":4.2},{"day":13.9,"tp":3.3},{"day":13.92,"tp":3.5},{"day":13.95,"tp":3.8},{"day":13.98,"tp":3.2},{"day":14.02,"tp":3.5},{"day":14.05,"tp":4.9},{"day":14.08,"tp":5.3},{"day":14.1,"tp":3.6},{"day":14.12,"tp":3.4},
{"day":13.8,"tp":5.2},{"day":13.85,"tp":5.6},{"day":13.9,"tp":5.0},{"day":13.95,"tp":5.4},{"day":13.98,"tp":5.8},{"day":14.0,"tp":5.1},{"day":14.02,"tp":5.6},{"day":14.05,"tp":5.9},{"day":14.1,"tp":5.4},{"day":14.12,"tp":5.8},{"day":14.15,"tp":6.0},{"day":14.18,"tp":5.7},{"day":14.2,"tp":5.3},{"day":14.22,"tp":5.9},{"day":14.25,"tp":5.6},{"day":14.28,"tp":6.1},{"day":14.3,"tp":5.8},{"day":14.32,"tp":5.5},{"day":14.35,"tp":6.0},{"day":14.38,"tp":5.7},{"day":14.4,"tp":5.4},{"day":14.42,"tp":5.9},{"day":14.45,"tp":5.6},{"day":14.48,"tp":5.2},{"day":14.5,"tp":5.8},{"day":14.52,"tp":5.5},{"day":14.55,"tp":6.0},{"day":14.58,"tp":5.7},{"day":14.6,"tp":5.3},{"day":14.62,"tp":5.9},{"day":14.65,"tp":5.6},{"day":14.68,"tp":5.8},{"day":14.7,"tp":5.4},{"day":14.72,"tp":6.1},{"day":14.75,"tp":5.7},{"day":14.78,"tp":5.5},{"day":14.8,"tp":5.9},{"day":14.82,"tp":5.6},{"day":14.85,"tp":6.0},{"day":14.88,"tp":5.3},{"day":14.9,"tp":5.8},{"day":14.92,"tp":5.6},{"day":14.95,"tp":6.1},{"day":14.98,"tp":5.8},{"day":15.0,"tp":5.5},{"day":15.02,"tp":6.3},{"day":15.05,"tp":5.9},{"day":15.08,"tp":6.2},{"day":15.1,"tp":5.7},{"day":15.12,"tp":6.0},{"day":15.15,"tp":5.8},{"day":15.18,"tp":6.3},{"day":15.2,"tp":6.0},{"day":15.22,"tp":5.8},{"day":15.25,"tp":6.1},{"day":15.28,"tp":5.9},{"day":15.3,"tp":5.6},{"day":15.32,"tp":6.0},{"day":15.35,"tp":5.8},
{"day":14.8,"tp":4.4},{"day":14.82,"tp":3.6},{"day":14.85,"tp":3.4},{"day":14.88,"tp":3.9},{"day":14.9,"tp":3.3},{"day":14.92,"tp":3.5},{"day":14.95,"tp":3.3},{"day":14.98,"tp":3.4},{"day":15.0,"tp":3.6},{"day":15.05,"tp":3.4},{"day":15.08,"tp":3.3},{"day":14.6,"tp":4.7},{"day":14.62,"tp":4.4},
{"day":14.27,"tp":8.96},{"day":14.3,"tp":8.96},{"day":14.33,"tp":8.96},{"day":14.36,"tp":8.96},{"day":14.39,"tp":8.4},{"day":14.46,"tp":7.8},{"day":14.32,"tp":7.45},{"day":14.35,"tp":7.1},{"day":14.42,"tp":7.1},{"day":15.36,"tp":7.87},
{"day":18.38,"tp":5.5},{"day":18.4,"tp":5.2},{"day":18.42,"tp":5.8},{"day":18.45,"tp":5.0},{"day":18.48,"tp":5.5},{"day":18.5,"tp":5.3},{"day":18.52,"tp":5.7},{"day":18.55,"tp":5.0},{"day":18.58,"tp":5.4},{"day":18.6,"tp":5.8},{"day":18.62,"tp":5.2},{"day":18.65,"tp":5.5},{"day":18.68,"tp":5.0},{"day":18.7,"tp":5.7},{"day":18.72,"tp":5.3},{"day":18.75,"tp":5.5},{"day":18.78,"tp":5.8},{"day":18.8,"tp":5.2},{"day":18.82,"tp":5.0},{"day":18.85,"tp":5.5},{"day":18.88,"tp":5.8},{"day":18.9,"tp":5.3},{"day":18.92,"tp":5.5},{"day":18.95,"tp":6.0},{"day":18.98,"tp":5.2},{"day":19.0,"tp":5.5},{"day":19.02,"tp":5.8},{"day":19.05,"tp":5.0},{"day":19.08,"tp":5.3},{"day":19.1,"tp":5.5},{"day":19.12,"tp":5.8},{"day":19.15,"tp":5.2},{"day":19.18,"tp":5.5},{"day":19.2,"tp":5.0},{"day":19.22,"tp":5.7},{"day":19.25,"tp":5.3},{"day":19.28,"tp":5.5},{"day":19.3,"tp":5.8},{"day":19.32,"tp":5.2},{"day":19.35,"tp":5.5},{"day":19.38,"tp":5.0},{"day":19.4,"tp":5.3},{"day":19.42,"tp":5.8},{"day":19.45,"tp":5.5},{"day":19.48,"tp":5.0},{"day":19.5,"tp":5.3},{"day":19.52,"tp":5.5},{"day":19.55,"tp":5.8},{"day":19.58,"tp":5.0},{"day":19.6,"tp":5.5},{"day":19.62,"tp":5.2},{"day":19.65,"tp":5.8},{"day":19.68,"tp":5.0},{"day":19.7,"tp":5.5},{"day":19.72,"tp":5.3},{"day":19.75,"tp":4.9},{"day":19.78,"tp":5.0},{"day":19.8,"tp":5.5},{"day":19.82,"tp":5.2},{"day":19.85,"tp":5.0},
{"day":19.06,"tp":6.3},{"day":19.2,"tp":6.65},{"day":19.4,"tp":5.95},{"day":19.6,"tp":7.0},{"day":19.62,"tp":6.3},{"day":19.72,"tp":5.95},{"day":19.75,"tp":6.3},{"day":18.8,"tp":4.3},{"day":18.85,"tp":3.85},{"day":18.9,"tp":3.6},{"day":18.95,"tp":3.85},{"day":19.05,"tp":3.85},{"day":19.2,"tp":3.85},{"day":19.35,"tp":3.85},{"day":19.45,"tp":3.85},{"day":19.55,"tp":4.3},
{"day":19.68,"tp":8.45},{"day":19.95,"tp":8.5},{"day":20.0,"tp":8.5},{"day":20.05,"tp":8.5},{"day":20.1,"tp":8.5},{"day":20.15,"tp":8.5},{"day":20.2,"tp":8.5},{"day":20.25,"tp":8.5},{"day":20.3,"tp":8.5},{"day":20.35,"tp":8.5},{"day":20.4,"tp":8.5},{"day":20.45,"tp":8.5},{"day":20.09,"tp":10.8},{"day":20.04,"tp":7.69},{"day":20.09,"tp":7.45},{"day":19.99,"tp":6.18},{"day":20.04,"tp":6.88},{"day":20.18,"tp":6.88},{"day":20.25,"tp":6.88},{"day":20.32,"tp":6.88},{"day":20.3,"tp":6.3},{"day":20.4,"tp":6.53},{"day":20.45,"tp":6.53},{"day":20.5,"tp":6.53},{"day":20.5,"tp":6.0},{"day":20.55,"tp":6.3},{"day":20.6,"tp":6.53},{"day":20.65,"tp":6.76},{"day":20.7,"tp":6.3},{"day":20.75,"tp":6.53},{"day":20.47,"tp":8.15},{"day":20.85,"tp":6.07},{"day":20.9,"tp":5.49},{"day":20.92,"tp":4.7},{"day":20.95,"tp":4.5},{"day":20.98,"tp":4.2},{"day":21.0,"tp":3.8},{"day":21.02,"tp":3.6},{"day":21.05,"tp":3.7},{"day":21.08,"tp":3.9},{"day":21.1,"tp":4.1},{"day":21.12,"tp":3.5},{"day":21.15,"tp":3.7},
{"day":21.0,"tp":5.5},{"day":21.05,"tp":5.8},{"day":21.1,"tp":5.3},{"day":21.15,"tp":5.6},{"day":21.15,"tp":6.0},{"day":21.2,"tp":5.8},{"day":21.25,"tp":5.2},{"day":21.3,"tp":5.5},{"day":21.35,"tp":5.8},{"day":21.38,"tp":5.0},{"day":21.4,"tp":5.5},{"day":21.42,"tp":4.9},{"day":21.45,"tp":5.8},{"day":21.45,"tp":6.3},{"day":21.48,"tp":5.4},{"day":21.5,"tp":5.6},{"day":21.52,"tp":5.2},{"day":21.55,"tp":5.8},{"day":21.58,"tp":5.5},{"day":21.6,"tp":5.2},{"day":21.6,"tp":6.3},{"day":21.62,"tp":5.6},{"day":21.65,"tp":5.8},{"day":21.68,"tp":5.4},{"day":21.7,"tp":5.6},{"day":21.72,"tp":6.0},{"day":21.75,"tp":5.5},{"day":21.78,"tp":5.8},{"day":21.8,"tp":5.2},{"day":21.82,"tp":5.6},{"day":21.85,"tp":5.8},{"day":21.88,"tp":5.4},{"day":21.9,"tp":5.6},{"day":21.92,"tp":5.8},{"day":21.95,"tp":5.5},{"day":21.98,"tp":5.2},{"day":22.0,"tp":5.6},{"day":22.02,"tp":5.8},{"day":22.05,"tp":5.4},{"day":22.08,"tp":5.6},{"day":22.1,"tp":5.8},{"day":22.12,"tp":5.5},{"day":22.15,"tp":5.2},{"day":22.18,"tp":5.6},{"day":22.2,"tp":5.8},{"day":22.22,"tp":5.4},{"day":22.25,"tp":5.6},{"day":22.28,"tp":5.8},{"day":22.3,"tp":5.5},{"day":22.32,"tp":5.6},{"day":22.35,"tp":5.8},{"day":22.38,"tp":5.4},{"day":22.4,"tp":5.6},{"day":22.42,"tp":5.8},{"day":22.45,"tp":5.5},{"day":22.48,"tp":5.6},{"day":22.5,"tp":5.8},{"day":22.52,"tp":5.4},{"day":22.55,"tp":5.6},{"day":22.58,"tp":5.8},{"day":22.6,"tp":5.5},{"day":22.62,"tp":5.6},{"day":22.65,"tp":5.2},{"day":22.7,"tp":5.6},{"day":22.72,"tp":5.8}
]
},
"vconcat": [
{
  "width": 810, "height": 230,
  "layer": [
    {"data": {"name": "hsS"},
     "mark": {"type": "line", "strokeWidth": 1.1, "invalid": "break-paths-filter-domains", "clip": true},
     "encoding": {
       "x": {"field": "day", "type": "quantitative", "scale": {"domain": [0, 23.23], "nice": false, "zero": false},
             "axis": {"orient": "bottom", "values": [0,1,2,3,4,5,6,7,8,9,10,11,12,13,14,15,16,17,18,19,20,21,22,23], "labels": false, "title": null}},
       "y": {"field": "hs", "type": "quantitative", "scale": {"domain": [0, 6], "nice": false},
             "axis": {"orient": "left", "values": [0,1,2,3,4,5,6], "title": "Hs (m)", "labelPadding": 15, "titlePadding": 20,
                      "labelOffset": {"condition": {"test": "datum.value == 6", "value": 5}, "value": 0}}},
       "color": {"datum": "in-situ sensor", "type": "nominal",
                 "scale": {"domain": ["in-situ sensor", "x-band radar"], "range": ["#1f1fff", "#ff0000"]},
                 "legend": {"orient": "none", "legendX": 615, "legendY": 23, "title": null, "direction": "vertical",
                   "fillColor": "white", "strokeColor": "black", "padding": 8,
                   "labelFont": "Liberation Serif", "labelFontSize": 20, "labelColor": "#111",
                   "symbolSize": 40, "labelOffset": 19, "rowPadding": 2,
                   "encode": {
                     "legend": {"update": {"strokeWidth": {"value": 1.8}}},
                     "symbols": {"update": {
                       "shape": {"signal": "datum.value === 'in-situ sensor' ? 'stroke' : 'circle'"},
                       "size": {"signal": "datum.value === 'in-situ sensor' ? 900 : 36"},
                       "fill": {"signal": "datum.value === 'in-situ sensor' ? 'transparent' : '#ff0000'"},
                       "stroke": {"signal": "datum.value === 'in-situ sensor' ? '#1f1fff' : 'transparent'"},
                       "strokeWidth": {"value": 1.5},
                       "opacity": {"value": 1},
                       "x": {"value": 13}
                     }}
                   }}}
     }},
    {"data": {"name": "hsR"},
     "mark": {"type": "point", "shape": "circle", "filled": true, "size": 32, "opacity": 1, "clip": true},
     "encoding": {
       "x": {"field": "day", "type": "quantitative", "axis": {"orient": "top", "values": [0,1,2,3,4,5,6,7,8,9,10,11,12,13,14,15,16,17,18,19,20,21,22,23], "labels": false, "title": null}},
       "y": {"field": "hs", "type": "quantitative", "axis": {"orient": "right", "values": [0,1,2,3,4,5,6], "labels": false, "title": null}},
       "color": {"datum": "x-band radar", "type": "nominal"}
     }},
    {"data": {"name": "ring"},
     "mark": {"type": "point", "shape": "M0,-1A0.586,1,0,1,1,0,1A0.586,1,0,1,1,0,-1Z", "filled": false, "size": 26244,
              "stroke": "#6a1fc8", "strokeWidth": 3, "strokeDash": [9, 5], "opacity": 1},
     "encoding": {
       "x": {"field": "day", "type": "quantitative", "axis": null},
       "y": {"field": "hs", "type": "quantitative", "axis": null}
     }},
    {"data": {"name": "note"},
     "mark": {"type": "text", "font": "Noto Sans CJK KR", "fontSize": 22, "color": "#6a22c8", "align": "center", "baseline": "middle"},
     "encoding": {
       "x": {"field": "day", "type": "quantitative", "axis": null},
       "y": {"field": "hs", "type": "quantitative", "axis": null},
       "text": {"field": "label"}
     }}
  ],
  "resolve": {"axis": {"x": "independent", "y": "independent"}}
},
{
  "width": 810, "height": 230,
  "layer": [
    {"data": {"name": "tpR"},
     "mark": {"type": "point", "shape": "circle", "filled": true, "size": 28, "opacity": 1, "color": "#ff0000", "clip": true},
     "encoding": {
       "x": {"field": "day", "type": "quantitative", "scale": {"domain": [0, 23.23], "nice": false, "zero": false},
             "axis": {"orient": "top", "values": [0,1,2,3,4,5,6,7,8,9,10,11,12,13,14,15,16,17,18,19,20,21,22,23], "labels": false, "title": null}},
       "y": {"field": "tp", "type": "quantitative", "scale": {"domain": [2, 18], "nice": false, "zero": false},
             "axis": {"orient": "right", "values": [2,4,6,8,10,12,14,16,18], "labels": false, "title": null}}
     }},
    {"data": {"name": "tpS"},
     "mark": {"type": "line", "strokeWidth": 1.1, "color": "#1f1fff", "invalid": "break-paths-filter-domains", "clip": true},
     "encoding": {
       "x": {"field": "day", "type": "quantitative",
             "axis": {"orient": "bottom", "values": [0,1,2,3,4,5,6,7,8,9,10,11,12,13,14,15,16,17,18,19,20,21,22,23],
                      "labelExpr": "datum.value == 0 ? '3/29' : datum.value == 3 ? '4/01' : datum.value == 7 ? '4/05' : datum.value == 12 ? '4/10' : datum.value == 17 ? '4/15' : datum.value == 22 ? '4/20' : ''",
                      "labelOffset": {"condition": {"test": "datum.value == 0", "value": 6}, "value": 0},
                      "labelPadding": 9, "title": "Date in 2013 (local)", "titleX": 421, "titlePadding": 13}},
       "y": {"field": "tp", "type": "quantitative",
             "axis": {"orient": "left", "values": [2,4,6,8,10,12,14,16,18], "title": "Tp (s)", "labelPadding": 15, "titlePadding": 10,
                      "labelOffset": {"condition": {"test": "datum.value == 2", "value": -5}, "value": 0}}}
     }}
  ],
  "resolve": {"axis": {"x": "independent", "y": "independent"}}
}
],
"resolve": {"scale": {"color": "independent"}, "legend": {"color": "independent"}}
}
